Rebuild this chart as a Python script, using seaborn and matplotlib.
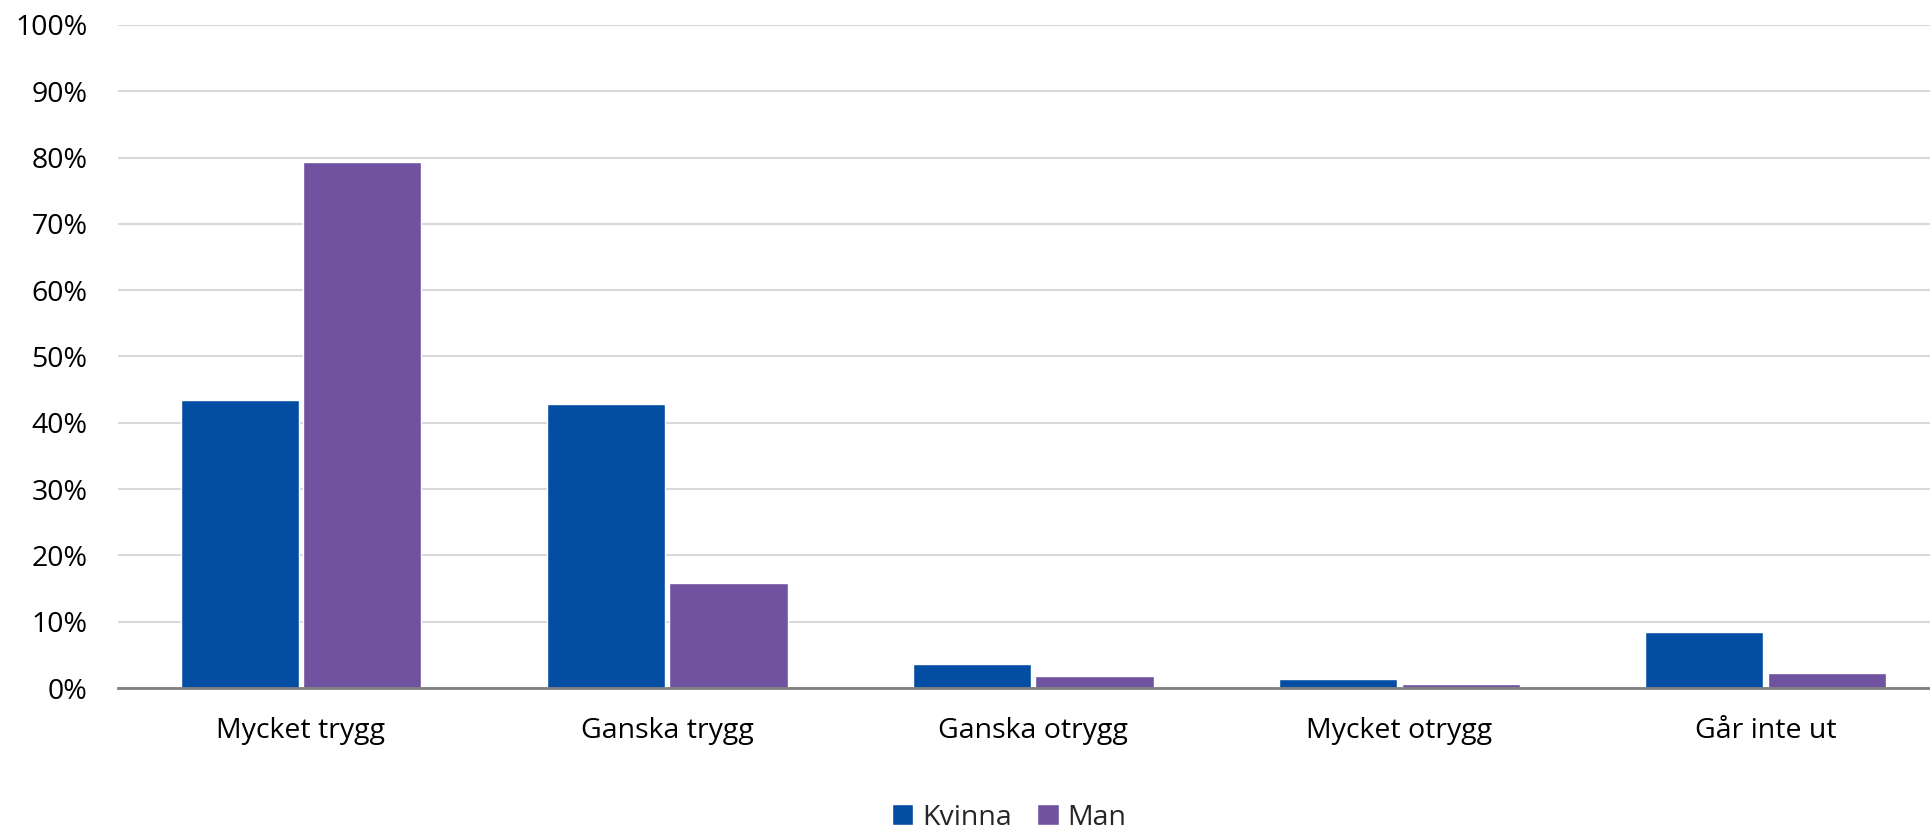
import pandas as pd
import matplotlib
matplotlib.use("Agg")
import matplotlib.pyplot as plt
import seaborn as sns

categories = ["Mycket trygg", "Ganska trygg", "Ganska otrygg", "Mycket otrygg", "Går inte ut"]
kvinna = [43.4, 42.9, 3.7, 1.3, 8.5]
man = [79.4, 15.8, 1.8, 0.6, 2.3]
y_ticks = [0, 10, 20, 30, 40, 50, 60, 70, 80, 90, 100]
y_labels = [f"{t}%" for t in y_ticks]

df = pd.DataFrame({
    "Kategori": categories * 2,
    "Kön": ["Kvinna"] * len(categories) + ["Man"] * len(categories),
    "Andel": kvinna + man,
})

sns.set_theme(style="white")
plt.rcParams["font.family"] = ["Open Sans", "DejaVu Sans"]

fig = plt.figure(figsize=(19.31, 8.31), dpi=100)
ax = fig.add_axes([0.0611, 0.172, 0.948, 0.798])

palette = {"Kvinna": "#034EA2", "Man": "#6F52A0"}
sns.barplot(data=df, x="Kategori", y="Andel", hue="Kön", palette=palette,
            width=0.67, gap=0.036, saturation=1, ax=ax, zorder=3)

ax.set_ylim(0, 100)
ax.set_yticks(y_ticks)
ax.set_yticklabels(y_labels, fontsize=20.5, color="#000000")
ax.tick_params(axis="x", labelsize=20.5, labelcolor="#000000", pad=21, length=0)
ax.tick_params(axis="y", pad=22, length=0)
ax.set_xlabel("")
ax.set_ylabel("")
ax.grid(axis="y", color="#D9D9D9", linewidth=1.5, zorder=0)
ax.set_axisbelow(True)
for side in ["top", "right", "left"]:
    ax.spines[side].set_visible(False)
ax.spines["bottom"].set_color("#808080")
ax.spines["bottom"].set_linewidth(2)
ax.spines["bottom"].set_zorder(4)

handles, labels = ax.get_legend_handles_labels()
ax.legend_.remove()
fig.legend(handles, labels, loc="center", bbox_to_anchor=(0.5226, 0.016), ncol=2,
           frameon=False, fontsize=20.5, handlelength=0.75, handleheight=0.75,
           handletextpad=0.3, columnspacing=0.9, borderpad=0)

fig.savefig("out.png", dpi=100)
